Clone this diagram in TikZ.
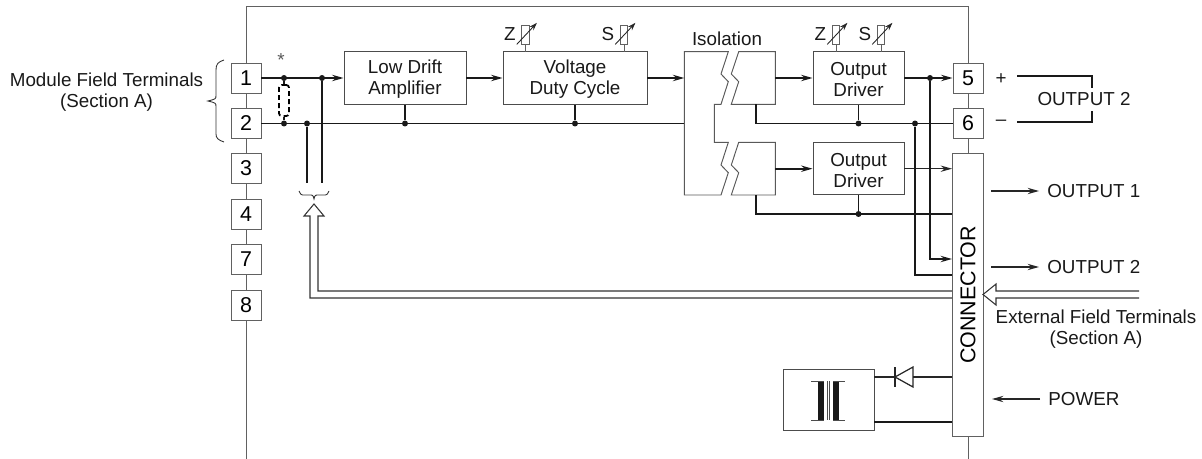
\documentclass[tikz,border=0pt]{standalone}
\usepackage{fontspec}
\setmainfont{Liberation Sans}
\usetikzlibrary{arrows.meta}

\definecolor{linegray}{gray}{0.38}
\tikzset{
    lbl/.style={font=\fontsize{10.7}{12}\selectfont,align=center,text=black!90,inner sep=0pt},
    term/.style={draw=linegray,fill=white,line width=0.55pt,minimum width=0.6cm,minimum height=0.6cm,inner sep=0pt,font=\fontsize{12.2}{14}\selectfont},
    block/.style={draw=black!70,fill=white,line width=0.55pt,minimum height=1.05cm,inner sep=0pt},
    blocktxt/.style={lbl,yshift=-0.8pt},
    wire/.style={line width=1.05pt,black!90},
    thinwire/.style={line width=0.7pt,black!85},
    tip/.style={-{Stealth[length=6.5pt,width=3.6pt,inset=2.2pt]}},
    dot/.style={circle,fill=black!90,inner sep=0pt,minimum size=3.4pt},
    shell/.style={line width=0.5pt,linegray},
    isol/.style={line width=0.55pt,black!65},
    trim/.style={draw=linegray,line width=0.5pt,minimum width=0.15cm,minimum height=0.38cm,inner sep=0pt},
}

\begin{document}
\begin{tikzpicture}[x=0.02cm,y=-0.02cm]
    \useasboundingbox (0,0) rectangle (1202,459);

    % module outline
    \coordinate (topL) at (246,6);
    \coordinate (topR) at (968,6);
    \coordinate (botL) at (246,459);
    \coordinate (botR) at (968,459);
    \draw[shell] (botL) -- (topL) -- (topR) -- (botR);

    % terminals
    \foreach \n/\y in {1/78,2/123.5,3/168.5,4/214,7/259.5,8/305}
        \node[term] (t\n) at (246,\y) {\n};
    \node[term] (t5) at (968,78) {5};
    \node[term] (t6) at (968,123.5) {6};
    \node[draw=linegray,fill=white,line width=0.55pt,rotate=90,minimum width=5.68cm,minimum height=0.62cm,inner sep=0pt,
        font=\fontsize{12.2}{14}\selectfont] (conn) at (968,295) {CONNECTOR};

    % blocks
    \node[block,minimum width=2.44cm,label={[blocktxt]center:Low Drift\\Amplifier}] (lowdrift) at (405,78) {};
    \node[block,minimum width=2.88cm,label={[blocktxt]center:Voltage\\Duty Cycle}] (voltage) at (575,78) {};
    \node[block,minimum width=1.82cm,label={[blocktxt]center:Output\\Driver}] (driverA) at (858.5,78) {};
    \node[block,minimum width=1.82cm,label={[blocktxt]center:Output\\Driver}] (driverB) at (858.5,168.7) {};

    % isolation
    \draw[isol] (728.3,51.7) -- (684.3,51.7) -- (684.3,195) -- (721,195) -- (728.3,172.7) -- (721,165) -- (728.3,142.3)
        -- (714.3,142.3) -- (714.3,104.3) -- (721,104.3) -- (728.3,81.7) -- (721,74) -- cycle;
    \draw[isol] (738.7,51.7) -- (775.3,51.7) -- (775.3,104.3) -- (731.3,104.3) -- (738.7,81.7) -- (731.3,74) -- cycle;
    \draw[isol] (738.7,142.3) -- (775.3,142.3) -- (775.3,195) -- (731.3,195) -- (738.7,172.7) -- (731.3,165) -- cycle;
    \node[lbl] (isolabel) at (727,38.5) {Isolation};
    \coordinate (isoL) at (684.3,78);
    \coordinate (isoLb) at (684.3,123.5);
    \coordinate (isoA) at (775.3,78);
    \coordinate (isoB) at (775.3,168.7);
    \coordinate (isoAr) at (756,104.3);
    \coordinate (isoBr) at (756,195);
    \coordinate (bendA) at (756,123.5);
    \coordinate (bendB) at (756,214);

    % junctions
    \node[dot] (j1) at (284,78) {};
    \node[dot] (j2) at (322,78) {};
    \node[dot] (j3) at (284,123.5) {};
    \node[dot] (j4) at (307,123.5) {};
    \node[dot] (j5) at (405,123.5) {};
    \node[dot] (j6) at (575,123.5) {};
    \node[dot] (j7) at (858.5,123.5) {};
    \node[dot] (j8) at (915,123.5) {};
    \node[dot] (j9) at (930,78) {};
    \node[dot] (j10) at (858.5,214) {};
    \coordinate (endA) at (322,183);
    \coordinate (endB) at (307,183);
    \coordinate (dropA) at (930,259);
    \coordinate (dropB) at (915,275);

    % signal path
    \draw[wire,tip] (t1) -- (lowdrift);
    \draw[wire,tip] (lowdrift) -- (voltage);
    \draw[wire,tip] (voltage) -- (isoL);
    \draw[wire,tip] (isoA) -- (driverA);
    \draw[wire,tip] (driverA) -- (t5);
    \draw[wire,tip] (isoB) -- (driverB);
    \draw[thinwire,tip] (driverB) -- (driverB -| conn.north);
    \draw[wire] (j2) -- (endA);
    \draw[wire] (j4) -- (endB);
    \draw[wire] (t2) -- (isoLb);
    \draw[wire] (j5) -- (lowdrift);
    \draw[wire] (j6) -- (voltage);
    \draw[wire] (isoAr) -- (bendA) -- (t6);
    \draw[wire] (isoBr) -- (bendB) -- (bendB -| conn.north);
    \draw[wire] (j7) -- (driverA);
    \draw[wire] (j10) -- (driverB);
    \draw[wire,tip] (j9) -- (dropA) -- (dropA -| conn.north);
    \draw[wire] (j8) -- (dropB) -- (dropB -| conn.north);

    % jumper
    \node[draw=black,dash pattern=on 2.8pt off 1.8pt,line width=1pt,rounded corners=1.5pt,minimum width=0.2cm,minimum height=0.62cm,inner sep=0pt] (jumper) at (284,100.5) {};
    \draw[wire] (j1) -- (jumper);
    \draw[wire] (j3) -- (jumper);
    \node[lbl,text=black!65] (star) at (281,60.5) {*};

    % left labels
    \node[lbl] (fieldL) at (106.5,92) {Module Field Terminals\\(Section A)};
    \draw[line width=0.5pt,black!80] (224,60) .. controls (218,62) and (216,64) .. (216,70) -- (216,95)
        .. controls (216,99) .. (208,101) .. controls (216,103) .. (216,107) -- (216,134)
        .. controls (216,138) and (218,140) .. (224,142);
    \draw[line width=0.5pt,black!80] (299,191) .. controls (301,195) .. (305,195) -- (309,195)
        .. controls (313,195) .. (314,199) .. controls (315,195) .. (319,195) -- (323,195)
        .. controls (327,195) .. (329,191);

    % trimmers
    \foreach \name/\xx/\zz in {Z1/525.5/Z,S1/624/S,Z2/836/Z,S2/881/S}{
        \node[trim] (\name) at (\xx,34.5) {};
        \coordinate (\name b) at (\xx,52);
        \coordinate (\name f) at ([xshift=-5pt]\name.south);
        \coordinate (\name t) at ([xshift=6.5pt,yshift=1pt]\name.north);
        \draw[line width=0.5pt,linegray] (\name) -- (\name b);
        \draw[line width=0.5pt,black!85,-{Stealth[length=4.5pt,width=3pt]}] (\name f) -- (\name t);
        \node[lbl,anchor=east] (\name lbl) at ([xshift=-3pt]\name.west) {\zz};
    }

    % return arrow to input
    \coordinate (retA) at (318,291);
    \coordinate (retB) at (310,298);
    \draw[line width=0.6pt,black!80] (retA -| conn.north) -- (retA) -- (318,216) -- (324,216) -- (314,204) -- (304,216)
        -- (310,216) -- (retB) -- (retB -| conn.north);

    % field terminals arrow
    \coordinate (extA) at (1139,291);
    \coordinate (extB) at (1139,298);
    \draw[line width=0.6pt,black!80] (extA) -- (996,291) -- (996,284) -- (983,294.5) -- (996,305) -- (996,298) -- (extB);
    \node[lbl] (fieldR) at (1096,329) {External Field Terminals\\(Section A)};

    % outputs
    \coordinate (outAs) at (991,191);
    \coordinate (outAe) at (1039,191);
    \coordinate (outBs) at (991,267);
    \coordinate (outBe) at (1039,267);
    \draw[thinwire,tip] (outAs) -- (outAe);
    \draw[thinwire,tip] (outBs) -- (outBe);
    \node[lbl,anchor=west] (outA) at (1047,191) {OUTPUT 1};
    \node[lbl,anchor=west] (outB) at (1047,267) {OUTPUT 2};

    \node[lbl] (plus) at (1001,79) {+};
    \node[lbl] (minus) at (1001,123) {--};
    \node[lbl] (outC) at (1084,99.5) {OUTPUT 2};
    \coordinate (brA) at (1017,76);
    \coordinate (brB) at (1017,122);
    \draw[wire] (brA) -- (1092,76) -- (1092,88);
    \draw[wire] (brB) -- (1092,122) -- (1092,111);

    % power
    \node[block,minimum width=1.82cm,minimum height=1.22cm] (supply) at (828.5,399.5) {};
    \fill[black!90] (818,381) rectangle (823.5,420);
    \fill[black!90] (833,381) rectangle (838.5,420);
    \draw[line width=0.4pt,black!70] (811,381) -- (823.5,381) (811,420) -- (823.5,420)
        (833,381) -- (845,381) (833,420) -- (845,420)
        (827.5,381) -- (827.5,420) (829.5,381) -- (829.5,420);
    \coordinate (powA) at (874,377);
    \coordinate (powB) at (874,422);
    \coordinate (diodeK) at (895,377);
    \coordinate (diodeA) at (913,377);
    \draw[thinwire] (powA) -- (diodeK);
    \draw[thinwire] (diodeA) -- (diodeA -| conn.north);
    \draw[thinwire] (895,367) -- (895,387);
    \draw[thinwire] (895,377) -- (913,367) -- (913,387) -- cycle;
    \draw[wire] (powB) -- (powB -| conn.north);
    \coordinate (powS) at (1040,399);
    \coordinate (powE) at (992,399);
    \draw[thinwire,tip] (powS) -- (powE);
    \node[lbl,anchor=west] (power) at (1048,399) {POWER};
\end{tikzpicture}
\end{document}
